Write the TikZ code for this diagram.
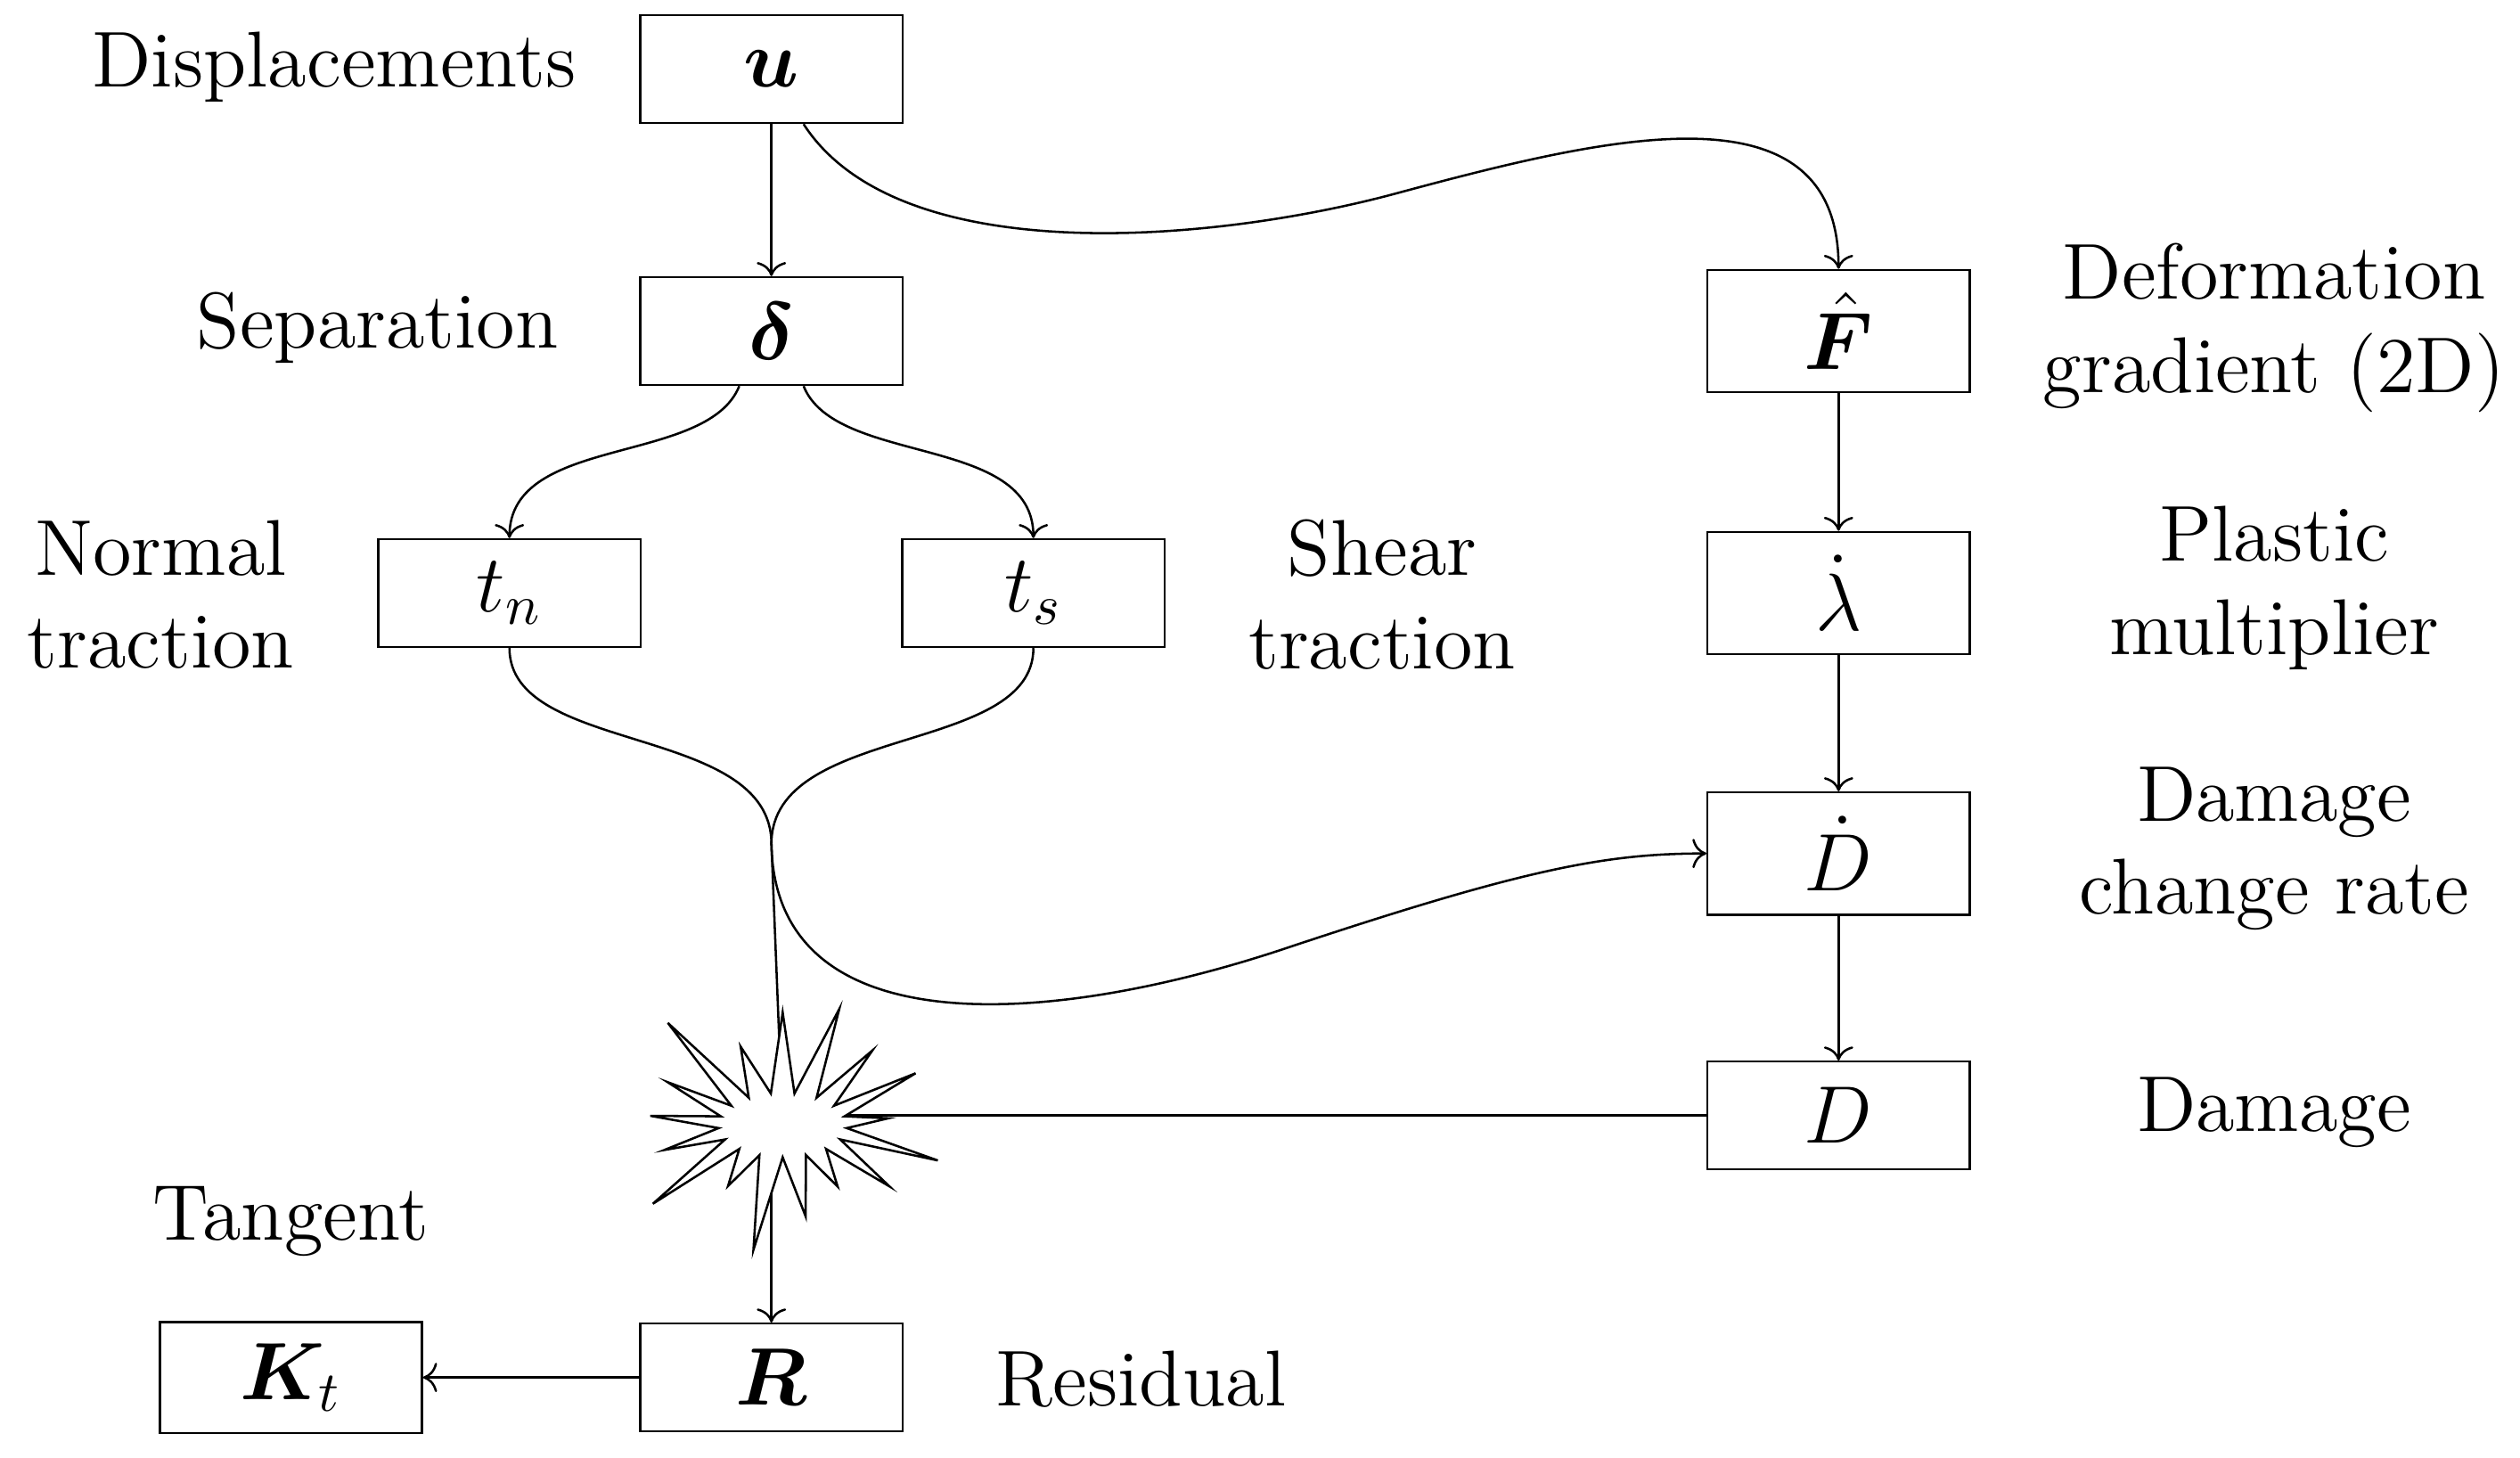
\documentclass[tikz,border=0pt]{standalone}
\usepackage{amsmath,bm}
\usetikzlibrary{shapes.symbols,arrows.meta}
\begin{document}
\begin{tikzpicture}[x=0.01cm,y=-0.01cm,
  box/.style={draw,minimum width=1.63cm,minimum height=0.67cm,inner sep=0pt},
  lbl/.style={align=center,font=\fontsize{14}{16.5}\selectfont},
  arr/.style={->},
  every node/.append style={font=\fontsize{14}{16.5}\selectfont}]
\useasboundingbox (0,0) rectangle (1568,907);
\node[box] (u) at (480,43) {$\bm{u}$};
\node[box] (d) at (480,206) {$\bm{\delta}$};
\node[box] (tn) at (317,369) {$t_n$};
\node[box] (ts) at (643,369) {$t_s$};
\node[box,minimum height=0.76cm] (F) at (1144,206) {$\hat{\bm{F}}$};
\node[box,minimum height=0.76cm] (lam) at (1144,369) {$\dot\lambda$};
\node[box,minimum height=0.76cm] (Dd) at (1144,531) {$\dot D$};
\node[box] (D) at (1144,694) {$D$};
\node[box] (R) at (480,857) {$\bm{R}$};
\node[box,minimum height=0.69cm] (K) at (181,857) {$\bm{K}_t$};
\coordinate (J) at (480,525);
\coordinate (Sc) at (487,700);

\node[lbl] (l1) at (208,42) {Displacements};
\node[lbl] (l2) at (235,204) {Separation};
\node[lbl] (l3) at (100,370) {Normal\\traction};
\node[lbl] (l4) at (860,370) {Shear\\traction};
\node[lbl] (l5) at (1415,204) {Deformation\\gradient (2D)};
\node[lbl] (l6) at (1415,366) {Plastic\\multiplier};
\node[lbl] (l7) at (1415,528) {Damage\\change rate};
\node[lbl] (l8) at (1415,692) {Damage};
\node[lbl] (l9) at (181,760) {Tangent};
\node[lbl] (l10) at (710,858) {Residual};

\draw[arr] ([xshift=0.2cm]u.south) .. controls (560,170) and (760,150) .. (870,120) .. controls (1000,85) and (1144,50) .. (F.north);
\draw[arr] (u) -- (d);
\draw[arr] ([xshift=-0.2cm]d.south) .. controls (440,290) and (317,270) .. (tn.north);
\draw[arr] ([xshift=0.2cm]d.south) .. controls (520,290) and (643,270) .. (ts.north);
\draw (tn.south) .. controls (317,470) and (480,450) .. (J);
\draw (ts.south) .. controls (643,470) and (480,450) .. (J);
\draw (J) -- (Sc);
\draw[arr] (J) .. controls (482,650) and (650,640) .. (800,590) .. controls (950,540) and (1000,531) .. (Dd.west);
\draw[arr] (F) -- (lam);
\draw[arr] (lam) -- (Dd);
\draw[arr] (Dd) -- (D);
\draw (D.west) -- (Sc |- D.west);
\draw[arr] (Sc -| R) -- (R.north);
\draw[arr] (R) -- (K);
\node[draw,fill=white,starburst,starburst points=17,starburst point height=0.7cm,minimum width=2.2cm,minimum height=1.8cm,inner sep=0pt] (S) at (Sc) {};
\end{tikzpicture}
\end{document}
